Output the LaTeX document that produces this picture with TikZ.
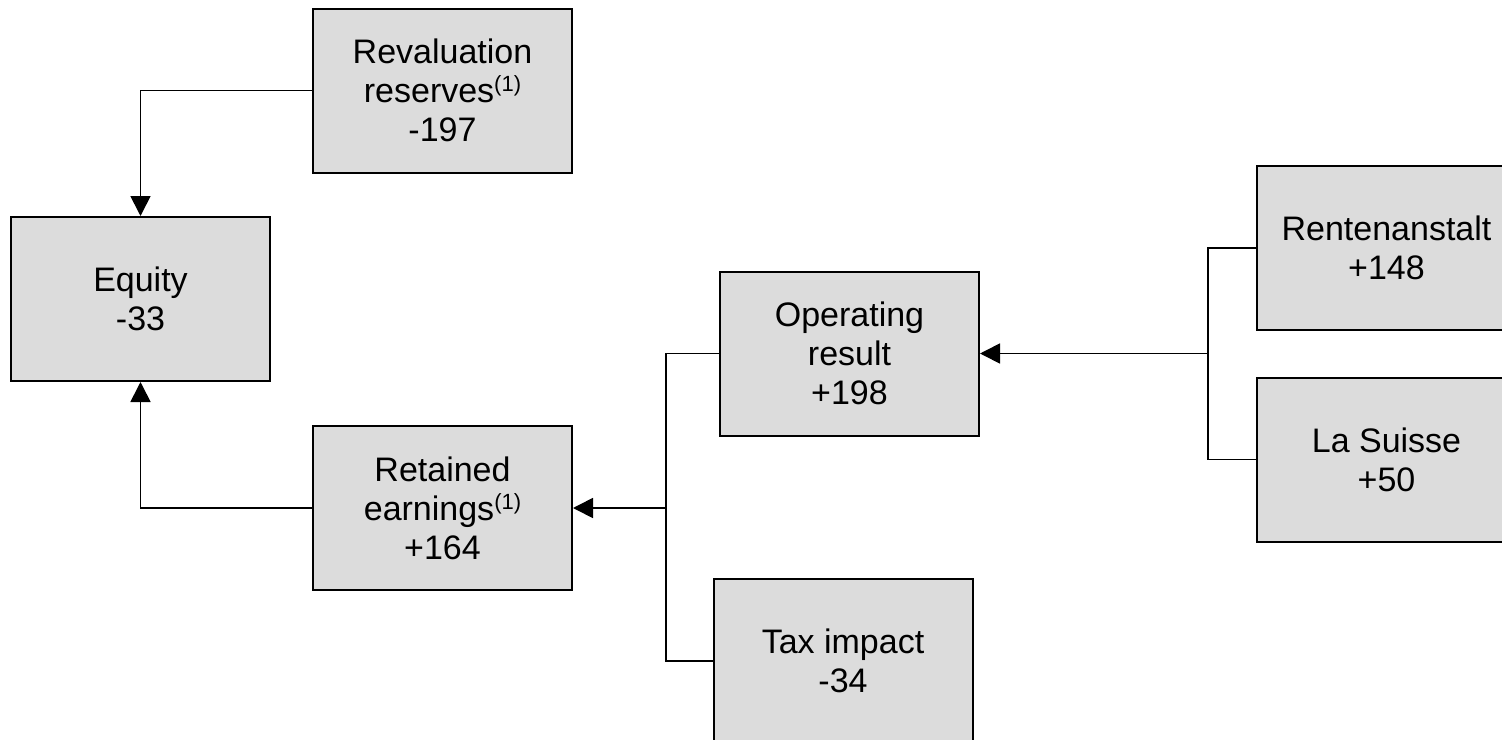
\documentclass[tikz,border=0pt]{standalone}
\usepackage{fontspec}
\setmainfont{Liberation Sans}
\usetikzlibrary{arrows.meta}
\definecolor{boxgray}{HTML}{DCDCDC}
\newcommand{\supone}{\raisebox{11pt}{\fontsize{22}{22}\selectfont(1)}}
\tikzset{
  box/.style={draw=black, line width=2pt, fill=boxgray, minimum width=259pt, minimum height=164pt,
    align=center, inner sep=0pt, font=\fontsize{34}{39}\selectfont},
  conn/.style={draw=black, line width=1.7pt},
  arr/.style={conn, -{Triangle[length=20pt,width=20pt]}}
}
\begin{document}
\begin{tikzpicture}[x=1pt,y=-1pt]
\useasboundingbox (0,0) rectangle (1502,739);
\node[box] (reval) at (442.5,90.5) {Revaluation\\reserves\supone\\-197};
\node[box] (equity) at (140.5,299) {Equity\\-33};
\node[box] (retained) at (442.5,508) {Retained\\earnings\supone\\+164};
\node[box] (oper) at (849.5,353.5) {Operating\\result\\+198};
\node[box] (tax) at (843,661) {Tax impact\\-34};
\node[box] (rent) at (1386.5,248) {Rentenanstalt\\+148};
\node[box] (suisse) at (1386.5,459.5) {La Suisse\\+50};
% connectors
\coordinate (jA) at (666,508);
\coordinate (jB) at (1208,353.5);
\draw[arr] (reval.west) -| (equity.north);
\draw[arr] (retained.west) -| (equity.south);
\draw[conn] (oper.west) -| (jA) |- (tax.west);
\draw[arr] (jA) -- (retained.east);
\draw[conn] (rent.west) -| (jB) |- (suisse.west);
\draw[arr] (jB) -- (oper.east);
\end{tikzpicture}
\end{document}
